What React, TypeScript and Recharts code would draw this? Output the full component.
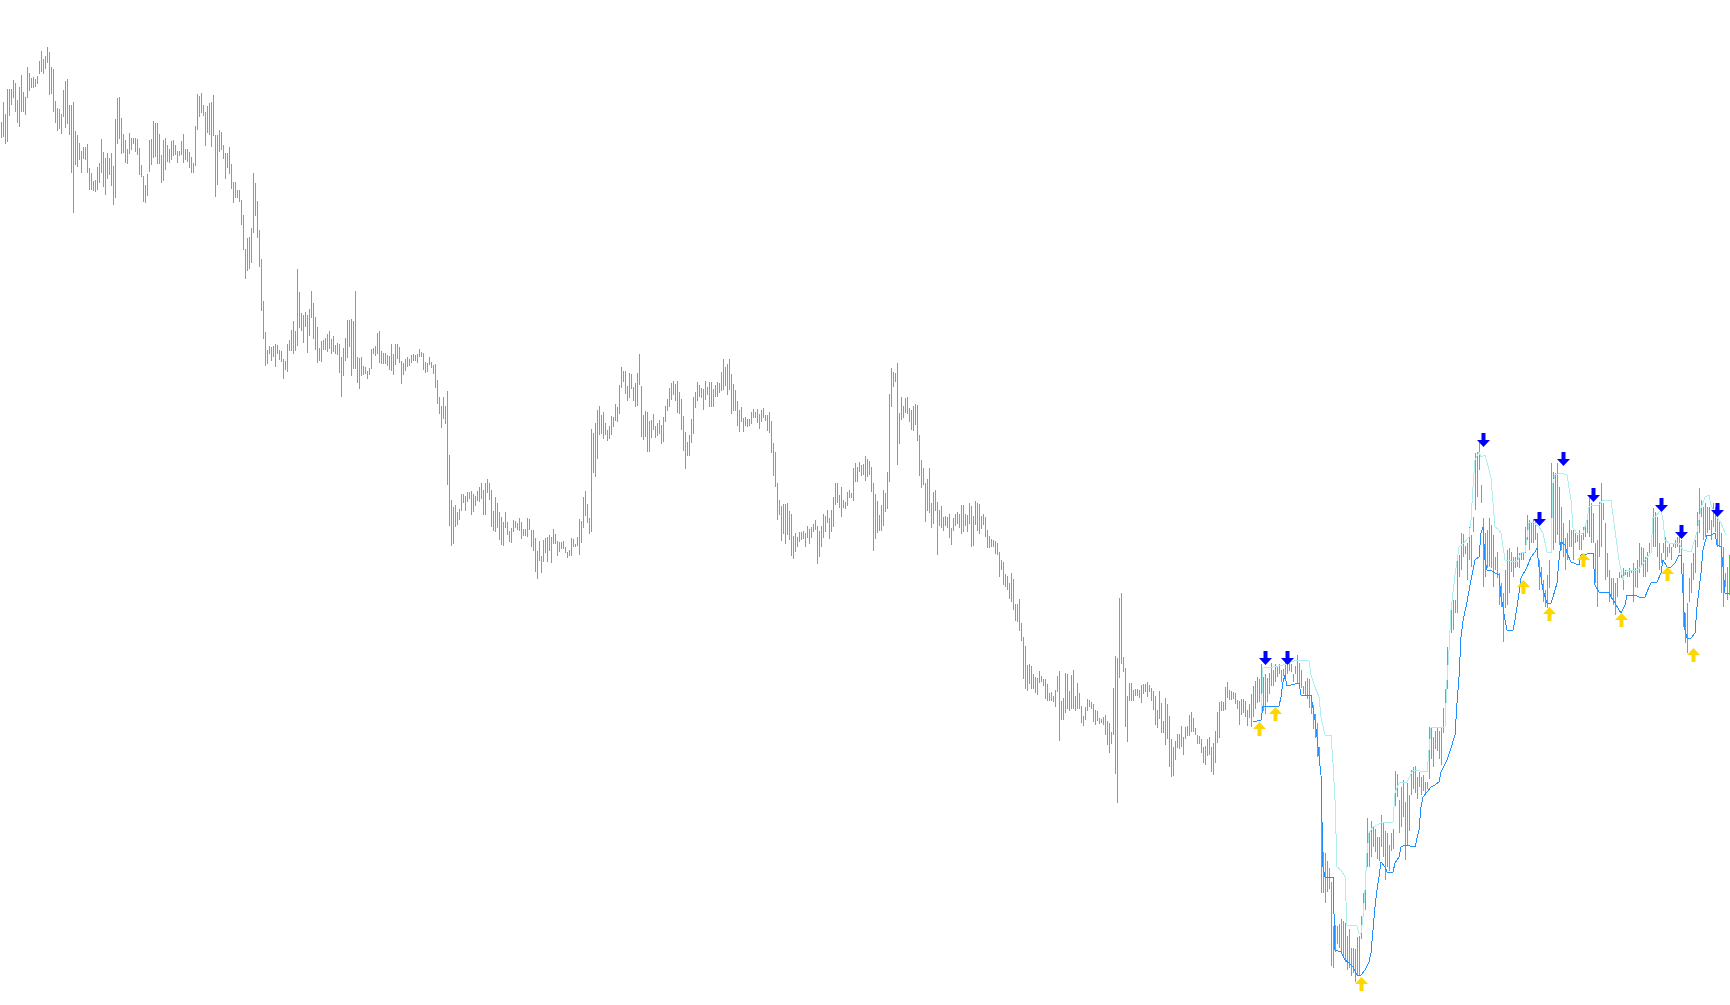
import { Bar, ComposedChart, Line, Scatter, XAxis, YAxis } from "recharts";

// bar highs / lows in points, one entry per bar (865 bars)
const HIGHS = [
  878, 898, 886, 911, 911, 911, 920, 917, 900, 913, 925, 908, 903, 933, 927, 922, 923, 921, 924, 939,
  949, 941, 944, 953, 948, 933, 931, 899, 892, 891, 886, 910, 919, 921, 895, 895, 898, 869, 865, 857,
  849, 853, 853, 856, 832, 827, 819, 820, 833, 837, 861, 848, 842, 847, 842, 847, 834, 881, 902, 903,
  882, 866, 860, 851, 867, 862, 862, 862, 861, 852, 835, 824, 815, 826, 860, 861, 879, 877, 877, 866,
  845, 860, 862, 855, 851, 859, 860, 855, 849, 849, 859, 866, 851, 851, 848, 843, 837, 874, 906, 904,
  907, 895, 888, 894, 897, 898, 905, 865, 865, 870, 868, 855, 847, 847, 853, 836, 818, 818, 810, 810,
  800, 785,
  751, 762, 763, 772, 827, 817, 799, 770, 741, 699, 668, 650, 654, 653, 654, 656, 655, 650, 649, 641,
  639, 656, 660, 670, 679, 669, 731, 708, 687, 685, 688, 685, 691, 709, 697, 683, 673, 652, 659, 660,
  662, 666, 669, 661, 664, 655, 657, 656, 643, 652, 662, 680, 680, 681, 679, 709, 643, 642, 643, 634,
  633, 629, 632, 651, 652, 654, 667, 669, 649, 647, 647, 645, 644, 656, 646, 656, 656, 653, 639, 637,
  641, 643, 641, 645, 646, 645, 646, 651, 648, 647, 638, 637, 643, 638, 635, 636, 620, 603, 594, 603,
  594, 609, 545, 500, 493, 495, 488, 491, 506, 506, 504, 508, 508, 509, 506, 504, 509, 513, 517, 510,
  517, 521, 517, 510, 489, 503, 497, 488, 483, 478, 488, 478, 469, 472, 480, 479, 477, 482, 478, 471,
  471, 482, 481, 470, 470, 462, 449, 459, 444, 460,
  462, 463, 465, 463, 471, 466, 459, 458, 458, 459, 453, 448, 450, 462, 461, 456, 463, 481, 479, 503,
  509, 496, 482, 571, 567, 577, 590, 594, 585, 588, 577, 570, 574, 584, 583, 596, 593, 615, 633, 629,
  629, 614, 627, 626, 613, 617, 627, 646, 614, 585, 589, 588, 579, 580, 586, 574, 577, 580, 575, 583,
  594, 601, 612, 617, 619, 616, 619, 608, 601, 584,
  568, 558, 565, 581, 603, 608, 618, 615, 612, 611, 619, 613, 618, 618, 611, 615, 618, 617, 628, 641,
  633, 636, 641, 626, 616, 610, 599, 590, 593, 582, 583, 581, 581, 588, 591, 588, 591, 586, 590, 592,
  585, 585, 588, 579, 557, 548, 517, 500, 494, 496, 496, 497, 489, 486, 464, 467, 463, 468, 468, 469,
  467, 474, 471, 473, 476, 480, 474, 469, 474, 486, 484, 490, 482, 490, 503, 517, 517,
  505, 513, 500, 498, 508, 510, 507, 532, 537, 533, 538, 535, 536, 544, 541, 539, 533, 517, 506, 499,
  485, 495, 510, 507, 528, 606, 632, 628, 627, 637, 587, 603, 594, 602, 603, 592, 590, 594, 596, 595,
  565, 540, 532, 517, 521, 532, 497, 508, 510, 498, 490, 494, 483, 484, 483, 486, 472, 482, 486, 488,
  486, 495, 495, 486, 485, 497, 494, 484, 499, 497, 496, 484, 486, 483, 470,
  464, 461, 460, 459, 457, 448, 440, 438, 426, 424, 417, 427, 421, 396, 396, 401, 377, 363, 354, 335,
  336, 334, 326, 323, 322, 329, 324, 321, 321, 316, 307, 308, 304, 310, 324, 329, 299, 302, 327, 326,
  309, 325, 330, 304, 317, 307, 294, 284, 293, 301, 300, 298, 296, 290, 289, 282, 281, 283, 285, 279,
  277, 268,
  312, 344, 342, 402, 407, 343, 332, 304, 317, 317, 310, 311, 311, 310, 315, 316, 316, 318, 315, 312,
  309, 304, 290, 309, 297, 279, 302, 296, 284, 261, 253, 259, 266, 266, 274, 263, 273, 274, 285, 288,
  282, 272, 265, 264, 261, 253, 254, 261, 263, 253, 257, 269, 288, 298, 299, 298, 313, 318, 310, 309,
  308, 307, 300, 299, 301, 301, 299, 290,
  296, 306, 314, 319, 323, 321, 336, 323, 326, 322, 327, 337, 330, 336, 334, 336, 330, 331, 338, 335,
  337, 336, 326, 334, 345, 337, 330, 314, 319, 322, 321, 301, 295, 286, 277, 253, 202, 148, 147, 139,
  132, 118, 74, 75, 74, 76, 81, 79, 77, 64, 71, 52, 52, 51, 63, 64, 84, 107, 121, 182,
  168, 179, 173, 171, 163, 163, 185, 178, 169, 167, 155, 167, 171, 229, 226, 200, 213, 220, 198, 217,
  205, 230, 233, 234, 223, 228, 223, 225, 218, 218, 273, 273, 263, 269, 272, 269, 273, 292, 311, 353,
  367, 392,
  400, 400, 439, 445, 467, 466, 454, 457, 473, 465, 483, 547, 548, 560,
  515, 482, 467, 470, 482, 475, 465, 443, 448, 427, 417, 407, 430, 450, 452, 448, 443, 443, 453, 447,
  448, 448, 473, 485, 480, 477, 480, 478, 467, 440, 433, 420, 410, 425, 440, 537, 528, 527, 537, 513,
  493, 477, 462, 467, 480, 470, 470, 467, 465, 470, 465, 473, 477, 487, 503, 497, 487, 457, 460, 498,
  517, 497, 477, 447, 430, 422, 422, 417, 422, 428, 428, 432, 430, 428, 432, 430, 437, 432, 440, 457,
  453, 452, 443, 448, 457, 458, 492, 488, 483, 457, 447, 457, 463, 453, 457, 453, 457, 460, 463, 467,
  460, 437, 387, 397, 422, 437, 447, 460, 488, 512, 500, 493, 497, 493, 493, 480, 497, 493, 487, 480,
  467, 453, 427, 433, 445,
];

const LOWS = [
  862, 863, 856, 858, 884, 895, 902, 888, 877, 873, 888, 888, 885, 902, 909, 912, 912, 913, 916, 926,
  928, 926, 931, 937, 905, 906, 888, 877, 869, 871, 866, 883, 872, 876, 865, 827, 787, 835, 833, 840,
  827, 841, 840, 827, 810, 810, 809, 808, 810, 817, 827, 813, 805, 821, 825, 814, 795, 802, 856, 861,
  846, 847, 837, 836, 846, 850, 856, 848, 845, 825, 823, 798, 797, 804, 828, 835, 842, 843, 836, 836,
  817, 819, 830, 838, 837, 840, 844, 845, 837, 844, 845, 837, 840, 838, 832, 827, 827, 834, 870, 883,
  887, 884, 854, 867, 865, 853, 864, 803, 815, 848, 850, 841, 821, 832, 826, 811, 797, 802, 802, 798,
  775, 750,
  721, 729, 731, 737, 767, 784, 762, 733, 689, 661, 634, 636, 646, 639, 643, 633, 646, 640, 638, 621,
  630, 628, 649, 649, 646, 649, 654, 672, 669, 657, 673, 647, 664, 682, 661, 650, 637, 639, 638, 650,
  650, 648, 651, 646, 648, 646, 645, 627, 603, 624, 639, 642, 653, 624, 631, 631, 617, 611, 624, 625,
  626, 621, 625, 631, 646, 644, 646, 637, 636, 636, 636, 634, 630, 629, 625, 635, 641, 637, 616, 625,
  629, 633, 634, 637, 639, 639, 637, 643, 643, 630, 627, 628, 635, 632, 626, 612, 596, 586, 572, 581,
  576, 515, 474, 454, 456, 473, 475, 480, 489, 497, 489, 498, 501, 485, 488, 494, 499, 498, 501, 485,
  485, 507, 500, 473, 469, 468, 472, 460, 455, 454, 472, 465, 458, 457, 468, 472, 470, 469, 461, 464,
  464, 463, 470, 453, 449, 428, 421, 439, 427, 438,
  447, 438, 449, 437, 456, 456, 444, 448, 451, 451, 447, 442, 444, 444, 453, 453, 454, 445, 457, 472,
  484, 477, 466, 468, 527, 523, 541, 565, 566, 561, 565, 559, 561, 565, 573, 579, 578, 586, 612, 618,
  606, 599, 602, 611, 599, 593, 594, 615, 563, 560, 563, 548, 548, 562, 570, 562, 564, 566, 556, 558,
  578, 589, 593, 600, 605, 599, 587, 586, 570, 549,
  531, 544, 544, 557, 566, 592, 599, 603, 602, 590, 600, 605, 593, 593, 593, 603, 603, 607, 609, 610,
  614, 605, 610, 586, 589, 589, 574, 568, 578, 568, 574, 573, 574, 576, 582, 582, 577, 571, 578, 582,
  579, 569, 567, 547, 524, 513, 480, 485, 459, 466, 456, 465, 460, 444, 441, 448, 453, 458, 460, 461,
  453, 462, 456, 462, 468, 470, 436, 443, 453, 462, 468, 477, 461, 468, 473, 495, 497,
  492, 483, 492, 491, 494, 502, 502, 499, 518, 518, 528, 524, 525, 519, 523, 525, 508, 449, 461, 467,
  469, 469, 474, 488, 491, 518, 593, 613, 618, 535, 556, 580, 582, 587, 586, 578, 570, 569, 575, 559,
  524, 512, 515, 478, 489, 487, 472, 476, 489, 445, 474, 472, 469, 474, 472, 462, 455, 469, 474, 476,
  472, 466, 468, 474, 468, 476, 453, 454, 475, 469, 466, 471, 475, 463, 452,
  452, 453, 453, 446, 445, 423, 430, 415, 413, 410, 401, 398, 390, 379, 378, 369, 359, 321, 311, 309,
  316, 311, 311, 307, 305, 317, 318, 314, 301, 299, 299, 299, 298, 293, 308, 259, 280, 280, 287, 291,
  289, 291, 291, 289, 291, 291, 277, 274, 280, 289, 293, 291, 278, 275, 279, 276, 277, 275, 265, 255,
  247, 256,
  265, 226, 197, 322, 336, 328, 273, 258, 299, 299, 299, 304, 304, 302, 297, 306, 308, 303, 308, 299,
  290, 275, 272, 281, 267, 267, 255, 261, 233, 223, 224, 240, 252, 251, 253, 245, 261, 264, 264, 268,
  268, 265, 256, 256, 247, 237, 235, 244, 245, 228, 225, 237, 257, 262, 289, 289, 290, 302, 300, 300,
  301, 296, 291, 275, 285, 287, 283, 274,
  282, 273, 283, 291, 297, 298, 302, 289, 286, 298, 306, 314, 314, 318, 323, 326, 318, 324, 325, 326,
  329, 328, 318, 326, 317, 317, 312, 306, 304, 301, 292, 286, 271, 262, 243, 237, 107, 107, 97, 108,
  111, 34, 32, 48, 56, 52, 48, 42, 38, 30, 32, 24, 27, 18, 25, 24, 61, 88, 90, 133,
  133, 143, 153, 148, 141, 139, 153, 143, 120, 133, 129, 149, 151, 194, 203, 167, 173, 183, 140, 154,
  169, 205, 211, 207, 201, 213, 205, 209, 207, 211, 221, 241, 233, 251, 249, 241, 235, 267, 295, 311,
  353, 367,
  370, 387, 387, 423, 430, 443, 446, 420, 440, 433, 468, 490, 503, 530,
  497, 413, 423, 432, 433, 432, 413, 430, 422, 395, 393, 358, 392, 395, 407, 428, 423, 432, 433, 432,
  440, 440, 447, 460, 450, 457, 457, 460, 445, 410, 415, 398, 393, 392, 412, 452, 450, 457, 465, 455,
  450, 443, 430, 440, 453, 453, 440, 457, 458, 450, 450, 460, 463, 467, 463, 457, 457, 417, 393, 443,
  453, 480, 420, 423, 398, 402, 395, 385, 403, 422, 422, 410, 425, 423, 423, 427, 398, 413, 412, 427,
  433, 423, 423, 428, 447, 450, 453, 453, 443, 430, 437, 447, 440, 443, 447, 440, 453, 452, 453, 447,
  440, 373, 357, 347, 398, 407, 420, 427, 453, 467, 483, 460, 463, 467, 470, 460, 473, 468, 453, 453,
  407, 393, 413, 400, 405,
];

// indicator lines: [bar index, level]
const LOWER_BAND: [number, number][] = [
  [626, 278], [630, 280], [631, 294], [639, 294], [640, 303], [641, 318], [642, 325], [643, 314],
  [649, 317], [650, 305], [655, 305], [656, 292], [657, 280], [658, 263], [660, 225], [661, 133],
  [662, 123], [666, 123], [667, 50], [670, 48], [672, 40], [674, 37], [676, 33], [678, 25], [680, 25],
  [682, 30], [684, 38], [685, 47], [686, 70], [687, 93], [688, 110], [689, 123], [690, 138], [692, 133],
  [693, 128], [696, 128], [697, 137], [699, 143], [700, 153], [702, 155], [707, 153], [709, 170],
  [710, 193], [711, 203], [713, 208], [715, 213], [717, 215], [719, 218], [720, 228], [723, 240],
  [725, 252], [727, 265], [728, 297], [729, 323], [730, 363], [731, 379], [733, 398], [735, 420],
  [737, 440], [739, 443], [740, 467], [741, 473], [742, 440], [743, 430], [745, 430], [747, 427],
  [749, 425], [750, 403], [751, 393], [752, 380], [753, 370], [756, 370], [757, 380], [758, 393],
  [759, 407], [760, 422], [763, 433], [765, 443], [767, 448], [768, 452], [769, 433], [770, 423],
  [771, 410], [773, 397], [775, 397], [776, 403], [778, 417], [779, 440], [780, 458], [782, 455],
  [783, 447], [785, 438], [789, 435], [790, 445], [796, 447], [797, 415], [799, 408], [804, 408],
  [805, 403], [807, 397], [809, 390], [810, 387], [812, 395], [813, 405], [817, 405], [819, 403],
  [822, 403], [824, 413], [825, 417], [828, 418], [830, 427], [831, 440], [833, 433], [835, 433],
  [837, 437], [839, 445], [840, 445], [841, 407], [842, 370], [843, 362], [845, 362], [847, 367],
  [848, 393], [850, 427], [851, 450], [853, 465], [855, 465], [857, 467], [858, 455], [860, 453],
  [861, 433], [862, 407], [864, 407],
];

const UPPER_BAND: [number, number][] = [
  [626, 278], [630, 280], [631, 332], [636, 333], [641, 335], [648, 340], [654, 339], [655, 325],
  [657, 313], [659, 303], [660, 283], [662, 265], [665, 265], [666, 237], [667, 200], [668, 133],
  [670, 130], [672, 123], [673, 75], [678, 74], [679, 67], [680, 67], [681, 83], [682, 110], [683, 147],
  [684, 167], [686, 173], [690, 177], [696, 178], [697, 207], [699, 217], [703, 218], [706, 230],
  [713, 228], [715, 272], [722, 273], [723, 320], [724, 350], [725, 390], [727, 425], [729, 453],
  [731, 456], [734, 463], [735, 480], [736, 513], [737, 540], [739, 548], [740, 543], [742, 545],
  [743, 538], [745, 522], [746, 497], [747, 473], [749, 470], [750, 467], [752, 440], [758, 438],
  [760, 447], [762, 448], [764, 477], [766, 478], [769, 473], [771, 467], [773, 448], [775, 447],
  [776, 517], [777, 525], [780, 527], [783, 525], [785, 500], [786, 472], [788, 467], [791, 467],
  [793, 480], [794, 493], [796, 495], [799, 495], [801, 500], [805, 500], [807, 470], [809, 440],
  [811, 420], [812, 428], [813, 430], [818, 430], [820, 433], [822, 440], [825, 447], [826, 483],
  [827, 483], [830, 490], [831, 480], [832, 460], [834, 457], [839, 457], [840, 453], [841, 450],
  [845, 448], [848, 468], [850, 492], [852, 503], [854, 505], [855, 495], [858, 483], [860, 477],
  [862, 467], [863, 465],
];

// signal arrows: [bar index, level of arrow tip]
const SELL_ARROWS: [number, number][] = [
  [632, 335], [643, 335], [741, 553], [769, 474], [781, 534], [796, 498], [830, 488], [840, 461], [858, 483],
];
const BUY_ARROWS: [number, number][] = [
  [629, 278], [637, 293], [680, 23], [761, 420], [774, 393], [791, 447], [810, 387], [833, 433], [846, 352],
];

const lower = new Map(LOWER_BAND);
const upper = new Map(UPPER_BAND);
const sells = new Map(SELL_ARROWS);
const buys = new Map(BUY_ARROWS);

const data = HIGHS.map((h, i) => ({
  i,
  hl: [LOWS[i], h],
  lower: lower.get(i) ?? null,
  upper: upper.get(i) ?? null,
  sell: sells.get(i) ?? null,
  buy: buys.get(i) ?? null,
}));

function Stick(props: any) {
  const { x, y, width, height } = props;
  if (!Number.isFinite(x) || !Number.isFinite(y)) return null;
  const top = Math.min(y, y + height);
  return (
    <rect
      x={Math.floor(x + width / 2)}
      y={top}
      width={1}
      height={Math.max(1, Math.abs(height))}
      fill="#00ff00"
      shapeRendering="crispEdges"
    />
  );
}

// wingdings-like arrows, tip sits on the level
function SellArrow(props: any) {
  const { cx, cy } = props;
  if (!Number.isFinite(cx) || !Number.isFinite(cy)) return <g />;
  const x = Math.round(cx) + 0.5;
  const y = Math.round(cy);
  const pts = `${x - 2},${y - 14} ${x + 2},${y - 14} ${x + 2},${y - 7} ${x + 6.5},${y - 7} ${x},${y} ${x - 6.5},${y - 7} ${x - 2},${y - 7}`;
  return <polygon points={pts} fill="#0000ff" />;
}

function BuyArrow(props: any) {
  const { cx, cy } = props;
  if (!Number.isFinite(cx) || !Number.isFinite(cy)) return <g />;
  const x = Math.round(cx) + 0.5;
  const y = Math.round(cy);
  const pts = `${x},${y} ${x + 6.5},${y + 7} ${x + 2},${y + 7} ${x + 2},${y + 14} ${x - 2},${y + 14} ${x - 2},${y + 7} ${x - 6.5},${y + 7}`;
  return <polygon points={pts} fill="#ffd700" />;
}

export default function App() {
  return (
    <div style={{ position: "absolute", left: 0, top: 0, width: 1730, height: 1005, background: "#fff" }}>
      <ComposedChart width={1730} height={1005} data={data} margin={{ top: 0, right: 0, bottom: 0, left: 0 }}>
        <XAxis dataKey="i" hide />
        <YAxis type="number" domain={[-5, 1000]} hide allowDataOverflow />
        <Bar dataKey="hl" barSize={1} shape={Stick} isAnimationActive={false} />
        <Line
          dataKey="upper"
          stroke="#afeeee"
          strokeWidth={1}
          dot={false}
          connectNulls
          type="linear"
          shapeRendering="crispEdges"
          isAnimationActive={false}
        />
        <Line
          dataKey="lower"
          stroke="#1e90ff"
          strokeWidth={1}
          dot={false}
          connectNulls
          type="linear"
          shapeRendering="crispEdges"
          isAnimationActive={false}
        />
        <Scatter dataKey="sell" shape={SellArrow} isAnimationActive={false} />
        <Scatter dataKey="buy" shape={BuyArrow} isAnimationActive={false} />
      </ComposedChart>
    </div>
  );
}
